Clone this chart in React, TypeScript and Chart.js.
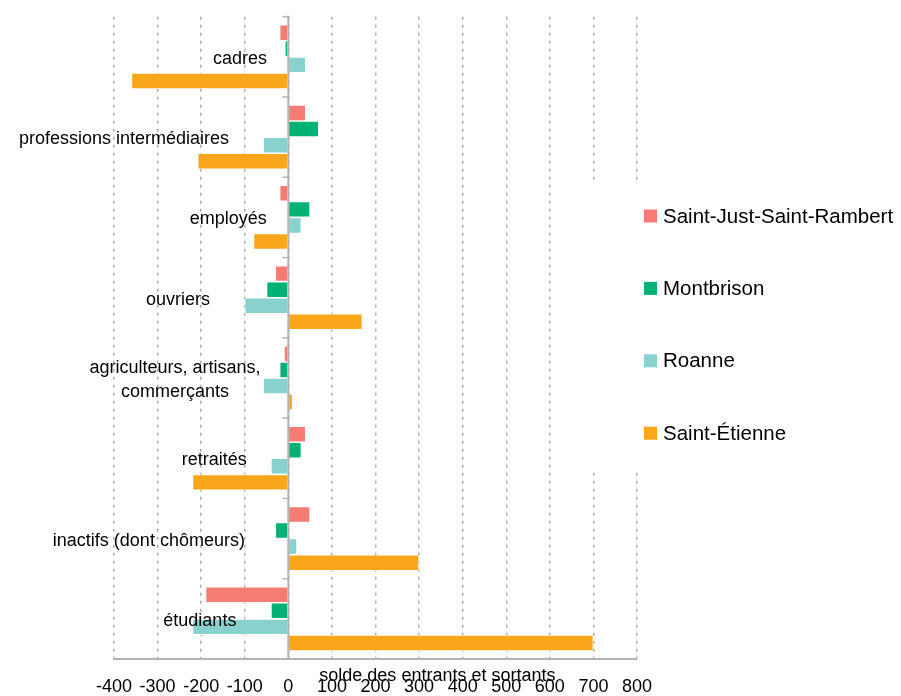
import React, { useEffect, useRef } from "react";
import { Chart, registerables } from "chart.js";

Chart.register(...registerables);

const categories = [
  "cadres",
  "professions intermédiaires",
  "employés",
  "ouvriers",
  ["agriculteurs, artisans,", "commerçants"],
  "retraités",
  "inactifs (dont chômeurs)",
  "étudiants",
];

const seriesNames = ["Saint-Just-Saint-Rambert", "Montbrison", "Roanne", "Saint-Étienne"];
const seriesColors = ["#F47C72", "#00B273", "#88D1CE", "#F9A61B"];

const saintJust = [-20, 40, -20, -30, -10, 40, 50, -190];
const montbrison = [-8, 70, 50, -50, -20, 30, -30, -40];
const roanne = [40, -58, 30, -100, -58, -40, 20, -220];
const saintEtienne = [-360, -208, -80, 170, 10, -220, 300, 700];

const xTicks = [-400, -300, -200, -100, 0, 100, 200, 300, 400, 500, 600, 700, 800];
const axisTitle = "solde des entrants et sortants";

// layout: horizontal centre of each category label, in axis units
const labelCentres = [-111, -377, -138, -253, -260, -170, -320, -203];
const axisTitleCentre = 342;

const FONT = "'Liberation Sans', Arial, sans-serif";

export default function App() {
  const ref = useRef<HTMLCanvasElement | null>(null);

  useEffect(() => {
    document.body.style.margin = "0";
    document.body.style.overflow = "hidden";
    const canvas = ref.current!;
    const W = 901;

    const overlay = {
      id: "overlay",
      beforeDatasetsDraw(chart: any) {
        const ctx = chart.ctx;
        ctx.save();
        ctx.fillStyle = "#ffffff";
        ctx.fillRect(572, 180, W - 572, 290);
        ctx.restore();
      },
      afterDatasetsDraw(chart: any) {
        const ctx = chart.ctx;
        const xs = chart.scales.x;
        const ys = chart.scales.y;
        const area = chart.chartArea;
        const x0 = xs.getPixelForValue(0);
        ctx.save();
        // zero axis
        ctx.strokeStyle = "#b3b3b3";
        ctx.lineWidth = 2;
        ctx.beginPath();
        ctx.moveTo(x0, area.top - 1);
        ctx.lineTo(x0, area.bottom);
        ctx.stroke();
        const band = (area.bottom - area.top) / categories.length;
        ctx.lineWidth = 1.5;
        for (let i = 0; i < categories.length; i++) {
          const yb = ys.getPixelForValue(i) - band / 2;
          ctx.beginPath();
          ctx.moveTo(x0 - 6, yb);
          ctx.lineTo(x0, yb);
          ctx.stroke();
        }
        // category labels
        ctx.fillStyle = "#000000";
        ctx.font = `18px ${FONT}`;
        ctx.textAlign = "center";
        ctx.textBaseline = "middle";
        categories.forEach((c, i) => {
          const cx = xs.getPixelForValue(labelCentres[i]);
          const cy = ys.getPixelForValue(i) + 2;
          const lines = Array.isArray(c) ? c : [c];
          const lh = 24;
          lines.forEach((ln, j) => {
            ctx.fillText(ln, cx, cy + (j - (lines.length - 1) / 2) * lh);
          });
        });
        ctx.restore();
      },
      afterDraw(chart: any) {
        const ctx = chart.ctx;
        const xs = chart.scales.x;
        ctx.save();
        ctx.fillStyle = "#000000";
        ctx.font = `18px ${FONT}`;
        ctx.textAlign = "center";
        ctx.textBaseline = "middle";
        ctx.fillText(axisTitle, xs.getPixelForValue(axisTitleCentre), 676);
        // legend
        ctx.font = `20.5px ${FONT}`;
        ctx.textAlign = "left";
        seriesNames.forEach((n, i) => {
          const cy = 216 + i * 72.4;
          ctx.fillStyle = seriesColors[i];
          ctx.fillRect(644, cy - 6.5, 13, 13);
          ctx.fillStyle = "#000000";
          ctx.fillText(n, 663, cy + 1);
        });
        ctx.restore();
      },
    };

    const series = [saintJust, montbrison, roanne, saintEtienne];
    const chart = new Chart(canvas, {
      type: "bar",
      data: {
        labels: categories.map((c) => (Array.isArray(c) ? c.join(" ") : c)),
        datasets: series.map((d, i) => ({
          label: seriesNames[i],
          data: d,
          backgroundColor: seriesColors[i],
          borderColor: "#ffffff",
          borderWidth: 0.8,
          categoryPercentage: 0.8,
          barPercentage: 1.0,
        })),
      },
      options: {
        indexAxis: "y",
        responsive: false,
        animation: false,
        layout: { padding: { left: 114, right: W - 637, top: 16.7, bottom: 4.2 } },
        plugins: { legend: { display: false }, tooltip: { enabled: false } },
        scales: {
          x: {
            type: "linear",
            min: -400,
            max: 800,
            afterBuildTicks: (scale: any) => {
              scale.ticks = xTicks.map((v) => ({ value: v }));
            },
            grid: {
              color: "#ababab",
              lineWidth: 1.5,
              drawTicks: false,
            },
            border: { display: true, color: "#b3b3b3", width: 2, dash: [3, 5] },
            ticks: {
              color: "#000000",
              font: { family: FONT, size: 18 },
              padding: 17.6,
              maxRotation: 0,
              autoSkip: false,
            },
          },
          y: {
            type: "category",
            display: false,
            offset: true,
          },
        },
      },
      plugins: [overlay],
    } as any);
    return () => chart.destroy();
  }, []);

  return (
    <div style={{ width: 901, height: 720 }}>
      <canvas ref={ref} width={901} height={720} style={{ display: "block" }} />
    </div>
  );
}
